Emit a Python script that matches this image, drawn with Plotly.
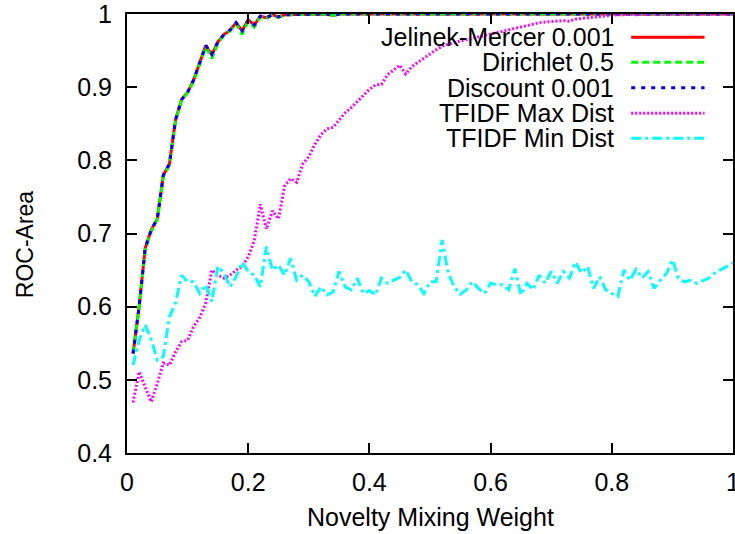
import plotly.graph_objects as go

# ---------------- data ----------------
x_weight = [round(0.01 * i, 2) for i in range(1, 101)]

jelinek_mercer = [
    0.536, 0.600, 0.680, 0.705, 0.720, 0.780, 0.795, 0.855, 0.883, 0.893,
    0.910, 0.935, 0.957, 0.944, 0.962, 0.972, 0.978, 0.988, 0.977, 0.992,
    0.985, 0.997, 0.995, 0.999, 0.996, 0.999, 0.999, 1.000, 0.999, 1.000,
    1.000, 1.000, 1.000, 0.998, 1.000, 1.000, 1.000, 1.000, 1.000, 1.000,
    1.000, 1.000, 1.000, 1.000, 1.000, 1.000, 1.000, 1.000, 1.000, 1.000,
    1.000, 1.000, 1.000, 1.000, 1.000, 1.000, 1.000, 1.000, 1.000, 1.000,
    1.000, 1.000, 1.000, 1.000, 1.000, 1.000, 1.000, 1.000, 1.000, 1.000,
    1.000, 1.000, 1.000, 1.000, 1.000, 1.000, 1.000, 1.000, 1.000, 1.000,
    1.000, 1.000, 1.000, 1.000, 1.000, 1.000, 1.000, 1.000, 1.000, 1.000,
    1.000, 1.000, 1.000, 1.000, 1.000, 1.000, 1.000, 1.000, 1.000, 1.000,
]

dirichlet = [
    0.536, 0.598, 0.678, 0.703, 0.719, 0.778, 0.794, 0.853, 0.882, 0.892,
    0.908, 0.933, 0.955, 0.939, 0.960, 0.971, 0.977, 0.987, 0.972, 0.990,
    0.982, 0.996, 0.994, 0.999, 0.995, 0.999, 0.999, 1.000, 0.999, 1.000,
    1.000, 1.000, 1.000, 0.998, 1.000, 1.000, 1.000, 1.000, 1.000, 1.000,
    1.000, 1.000, 1.000, 1.000, 1.000, 1.000, 1.000, 1.000, 1.000, 1.000,
    1.000, 1.000, 1.000, 1.000, 1.000, 1.000, 1.000, 1.000, 1.000, 1.000,
    1.000, 1.000, 1.000, 1.000, 1.000, 1.000, 1.000, 1.000, 1.000, 1.000,
    1.000, 1.000, 1.000, 1.000, 1.000, 1.000, 1.000, 1.000, 1.000, 1.000,
    1.000, 1.000, 1.000, 1.000, 1.000, 1.000, 1.000, 1.000, 1.000, 1.000,
    1.000, 1.000, 1.000, 1.000, 1.000, 1.000, 1.000, 1.000, 1.000, 1.000,
]

discount = [
    0.536, 0.600, 0.680, 0.705, 0.720, 0.780, 0.795, 0.855, 0.883, 0.893,
    0.910, 0.935, 0.957, 0.945, 0.962, 0.972, 0.978, 0.988, 0.977, 0.992,
    0.985, 0.997, 0.995, 0.999, 0.996, 0.999, 0.999, 1.000, 0.999, 1.000,
    1.000, 1.000, 1.000, 0.998, 1.000, 1.000, 1.000, 1.000, 1.000, 1.000,
    1.000, 1.000, 1.000, 1.000, 1.000, 1.000, 1.000, 1.000, 1.000, 1.000,
    1.000, 1.000, 1.000, 1.000, 1.000, 1.000, 1.000, 1.000, 1.000, 1.000,
    1.000, 1.000, 1.000, 1.000, 1.000, 1.000, 1.000, 1.000, 1.000, 1.000,
    1.000, 1.000, 1.000, 1.000, 1.000, 1.000, 1.000, 1.000, 1.000, 1.000,
    1.000, 1.000, 1.000, 1.000, 1.000, 1.000, 1.000, 1.000, 1.000, 1.000,
    1.000, 1.000, 1.000, 1.000, 1.000, 1.000, 1.000, 1.000, 1.000, 1.000,
]

tfidf_max = [
    0.469, 0.511, 0.490, 0.470, 0.495, 0.523, 0.520, 0.538, 0.552, 0.554,
    0.573, 0.585, 0.605, 0.650, 0.643, 0.639, 0.643, 0.650, 0.655, 0.668,
    0.690, 0.740, 0.706, 0.731, 0.720, 0.765, 0.775, 0.770, 0.795, 0.805,
    0.822, 0.835, 0.843, 0.845, 0.855, 0.865, 0.872, 0.880, 0.889, 0.897,
    0.903, 0.904, 0.917, 0.923, 0.930, 0.918, 0.928, 0.934, 0.940, 0.945,
    0.951, 0.956, 0.959, 0.961, 0.963, 0.965, 0.966, 0.968, 0.971, 0.973,
    0.975, 0.977, 0.979, 0.981, 0.983, 0.985, 0.987, 0.988, 0.989, 0.990,
    0.991, 0.991, 0.990, 0.993, 0.994, 0.995, 0.996, 0.997, 0.998, 0.999,
    0.999, 0.999, 1.000, 0.999, 1.000, 1.000, 1.000, 1.000, 1.000, 1.000,
    1.000, 1.000, 1.000, 1.000, 1.000, 1.000, 1.000, 1.000, 1.000, 1.000,
]

tfidf_min = [
    0.520, 0.554, 0.575, 0.555, 0.527, 0.532, 0.586, 0.605, 0.643, 0.634,
    0.634, 0.618, 0.630, 0.607, 0.655, 0.646, 0.627, 0.641, 0.661, 0.648,
    0.643, 0.627, 0.682, 0.650, 0.657, 0.643, 0.666, 0.636, 0.643, 0.634,
    0.614, 0.627, 0.616, 0.620, 0.648, 0.627, 0.623, 0.639, 0.618, 0.622,
    0.616, 0.639, 0.632, 0.636, 0.640, 0.650, 0.634, 0.630, 0.618, 0.634,
    0.634, 0.691, 0.646, 0.627, 0.617, 0.623, 0.634, 0.625, 0.618, 0.632,
    0.630, 0.630, 0.623, 0.652, 0.616, 0.632, 0.623, 0.643, 0.632, 0.648,
    0.632, 0.648, 0.639, 0.661, 0.646, 0.655, 0.625, 0.641, 0.623, 0.618,
    0.614, 0.650, 0.636, 0.651, 0.639, 0.648, 0.625, 0.636, 0.645, 0.664,
    0.639, 0.634, 0.636, 0.632, 0.636, 0.639, 0.646, 0.650, 0.655, 0.660,
]

series_names = ["Jelinek-Mercer 0.001", "Dirichlet 0.5", "Discount 0.001",
                "TFIDF Max Dist", "TFIDF Min Dist"]
series_values = [jelinek_mercer, dirichlet, discount, tfidf_max, tfidf_min]

x_tick_vals = [0, 0.2, 0.4, 0.6, 0.8, 1]
x_tick_text = ["0", "0.2", "0.4", "0.6", "0.8", "1"]
y_tick_vals = [0.4, 0.5, 0.6, 0.7, 0.8, 0.9, 1.0]
y_tick_text = ["0.4", "0.5", "0.6", "0.7", "0.8", "0.9", "1"]

# ---------------- styles ----------------
colors = ["#ff0000", "#00ff00", "#0000ff", "#ff00ff", "#00ffff"]
dashes = ["solid", "7px,4px", "4px,6px", "2px,2px", "10px,4px,3px,4px"]
FONT = "Liberation Sans, Arial, Helvetica, sans-serif"
FS = 25

fig = go.Figure()
for name, vals, c, d in zip(series_names, series_values, colors, dashes):
    fig.add_trace(go.Scatter(
        x=x_weight, y=vals, mode="lines", name=name,
        line=dict(color=c, width=3, dash=d), showlegend=False,
    ))

# manual legend: text on the left, line sample on the right (gnuplot style)
legend_rows_y = [0.947, 0.890, 0.832, 0.774, 0.717]
for name, c, d, yy in zip(series_names, colors, dashes, legend_rows_y):
    fig.add_annotation(
        xref="paper", yref="paper", x=0.807, y=yy, text=name,
        showarrow=False, xanchor="right", yanchor="middle",
        height=24, valign="middle",
        font=dict(family=FONT, size=FS, color="black"),
    )
    fig.add_shape(
        type="line", xref="paper", yref="paper",
        x0=0.832, x1=0.953, y0=yy, y1=yy,
        line=dict(color=c, width=3, dash=d),
    )

fig.add_annotation(
    xref="paper", yref="paper", x=0.5, y=-0.146, text="Novelty Mixing Weight",
    showarrow=False, xanchor="center", yanchor="middle",
    font=dict(family=FONT, size=FS, color="black"),
)
fig.add_annotation(
    xref="paper", yref="paper", x=-0.168, y=0.476, text="ROC-Area",
    showarrow=False, xanchor="center", yanchor="middle", textangle=-90,
    font=dict(family=FONT, size=23, color="black"),
)

axis_common = dict(
    showgrid=False, zeroline=False, showline=True, linecolor="black",
    linewidth=2, mirror="ticks", ticks="inside", ticklen=10, tickwidth=2,
    tickcolor="black", tickfont=dict(family=FONT, size=FS, color="black"),
    ticklabeloverflow="allow",
)
fig.update_xaxes(range=[0, 1], tickvals=x_tick_vals, ticktext=x_tick_text,
                 ticklabelstandoff=6, **axis_common)
fig.update_yaxes(range=[0.4, 1], tickvals=y_tick_vals, ticktext=y_tick_text,
                 ticklabelstandoff=8, **axis_common)

fig.update_layout(
    width=735, height=534,
    margin=dict(l=127, r=2, t=14, b=81, autoexpand=False),
    plot_bgcolor="white", paper_bgcolor="white",
    font=dict(family=FONT, size=FS, color="black"),
)

# remove the default 8px page margin so the figure fills the window exactly
fig.write_html(
    "out.html",
    config={"displayModeBar": False},
    post_script="document.body.style.margin='0';document.body.style.overflow='hidden';",
)
